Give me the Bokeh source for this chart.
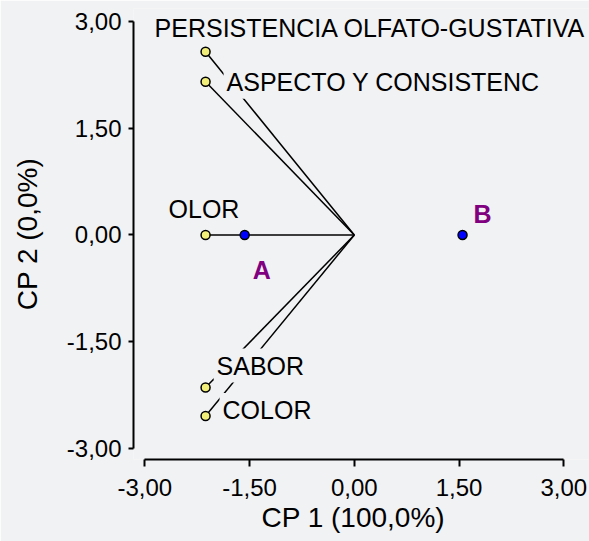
from bokeh.plotting import figure
from bokeh.models import Range1d, FixedTicker, ColumnDataSource, LabelSet, Title
from bokeh.core.properties import value
from bokeh.embed import file_html
from bokeh.resources import INLINE

# ---------------- data ----------------
variables = ["PERSISTENCIA OLFATO-GUSTATIVA", "ASPECTO Y CONSISTENC", "OLOR", "SABOR", "COLOR"]
var_cp1 = [-2.13, -2.13, -2.13, -2.13, -2.13]
var_cp2 = [2.57, 2.15, 0.0, -2.14, -2.54]
origin_cp1 = [0.0, 0.0, 0.0, 0.0, 0.0]
origin_cp2 = [0.0, 0.0, 0.0, 0.0, 0.0]
groups = ["A", "B"]
group_cp1 = [-1.57, 1.55]
group_cp2 = [0.0, 0.0]
tick_values = [-3.0, -1.5, 0.0, 1.5, 3.0]
tick_labels = ["-3,00", "-1,50", "0,00", "1,50", "3,00"]
x_title = "CP 1 (100,0%)"
y_title = "CP 2 (0,0%)"

# ---------------- layout / style (label offsets in px, up = positive) ----------------
var_dx = [-51, 21, -37, 11, 17]
var_dy = [15, -9, 17, 13, -3]
group_dx = [8, 11]
group_dy = [-44, 12]

BG = "#F1F2F4"
FONT = "Liberation Sans"

p = figure(width=589, height=541, output_backend="svg", toolbar_location=None,
           x_range=Range1d(-3.162, 3.368), y_range=Range1d(-3.150, 3.178),
           min_border_left=133, min_border_right=0, min_border_top=8, min_border_bottom=82,
           background_fill_color=BG, border_fill_color=BG, outline_line_color=None)
p.grid.visible = False

for ax in (p.xaxis[0], p.yaxis[0]):
    ax.bounds = (-3, 3)
    ax.ticker = FixedTicker(ticks=tick_values)
    ax.major_label_overrides = dict(zip(tick_values, tick_labels))
    ax.minor_tick_line_color = None
    ax.axis_line_width = 2
    ax.major_tick_line_width = 2
    ax.major_tick_in = 0
    ax.major_label_text_font = FONT
    ax.major_label_text_font_size = "24px"
    ax.major_label_text_color = "black"
    ax.axis_label_text_font = FONT
    ax.axis_label_text_font_size = "28px"
    ax.axis_label_text_font_style = "normal"
    ax.axis_label_text_color = "black"
    ax.axis_line_color = "black"
    ax.major_tick_line_color = "black"

p.xaxis[0].major_tick_out = 7
p.xaxis[0].major_label_standoff = 12
p.yaxis[0].axis_label = y_title
p.yaxis[0].major_tick_out = 5
p.yaxis[0].major_label_standoff = 7
p.yaxis[0].axis_label_standoff = 21

# x-axis title, placed under the -3..3 span of the axis
p.add_layout(Title(text=x_title, align="left", offset=128, vertical_align="bottom", standoff=2,
                   text_font=FONT, text_font_size="28px", text_font_style="normal",
                   text_color="black"), "below")

vsrc = ColumnDataSource(dict(x0=origin_cp1, y0=origin_cp2, x=var_cp1, y=var_cp2,
                             name=variables, dx=var_dx, dy=var_dy))
gsrc = ColumnDataSource(dict(x=group_cp1, y=group_cp2, name=groups, dx=group_dx, dy=group_dy))

p.segment(x0="x0", y0="y0", x1="x", y1="y", source=vsrc, line_color="black", line_width=1.5)

vlabels = LabelSet(x="x", y="y", text="name", x_offset="dx", y_offset="dy", source=vsrc,
                   text_font=value(FONT), text_font_size="25px", text_color="black",
                   text_baseline="alphabetic", text_align="left",
                   background_fill_color=BG, border_line_color=BG, border_line_width=6)
p.add_layout(vlabels)

glabels = LabelSet(x="x", y="y", text="name", x_offset="dx", y_offset="dy", source=gsrc,
                   text_font=value(FONT), text_font_size="25px", text_font_style="bold",
                   text_color="#800080", text_baseline="alphabetic", text_align="left")
p.add_layout(glabels)

p.scatter(x="x", y="y", source=vsrc, size=9, fill_color="#F2EE7A", line_color="black", line_width=1.5)
p.scatter(x="x", y="y", source=gsrc, size=9, fill_color="#0000FF", line_color="black", line_width=1.5)

open("out.html", "w").write(file_html(p, INLINE))
